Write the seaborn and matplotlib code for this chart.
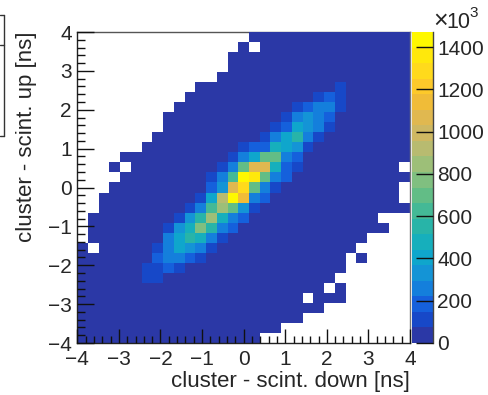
import numpy as np
import matplotlib
matplotlib.use('Agg')
import matplotlib.pyplot as plt
from matplotlib.colors import ListedColormap
from matplotlib.lines import Line2D
import seaborn as sns

n = np.nan
b = 30

# bin contents, first row is the top of the plot (y = +4 ns), columns go from x = -4 ns
counts = [
    [n,n,n,n,n, n,n,n,n,n, n,n,n,n,n, n,b,b,b,b, b,b,b,b,b, b,b,b,b,b, b],
    [n,n,n,n,n, n,n,n,n,n, n,n,n,n,n, b,n,b,b,b, b,b,b,b,b, b,b,b,b,b, b],
    [n,n,n,n,n, n,n,n,n,n, n,n,n,n,b, b,b,b,b,b, b,b,b,b,b, b,b,b,b,b, b],
    [n,n,n,n,n, n,n,n,n,n, n,n,n,n,b, b,b,b,b,b, b,b,b,b,b, b,b,b,b,b, b],
    [n,n,n,n,n, n,n,n,n,n, n,n,n,b,b, b,b,b,b,b, b,b,b,b,b, b,b,b,b,b, b],
    [n,n,n,n,n, n,n,n,n,n, n,b,b,b,b, b,b,b,b,b, b,b,b,b,110, b,b,b,b,b, b],
    [n,n,n,n,n, n,n,n,n,n, b,b,b,b,b, b,b,b,b,b, b,b,110,184,110, b,b,b,b,b, b],
    [n,n,n,n,n, n,n,n,n,b, b,b,b,b,b, b,b,b,b,b, 110,184,258,258,110, b,b,b,b,b, b],
    [n,n,n,n,n, n,n,n,b,b, b,b,b,b,b, b,b,b,b,110, 221,331,258,184,b, b,b,b,b,b, b],
    [n,n,n,n,n, n,n,n,b,b, b,b,b,b,b, b,b,b,110,184, 405,331,258,110,b, b,b,b,b,b, b],
    [n,n,n,n,n, n,n,b,b,b, b,b,b,b,b, b,b,110,258,405, 552,258,110,b,b, b,b,b,b,b, b],
    [n,n,n,n,n, n,b,b,b,b, b,b,b,b,b, 110,184,184,478,405, 331,110,b,b,b, b,b,b,b,b, b],
    [n,n,n,n,b, b,b,b,b,b, b,b,b,b,110, 258,405,699,699,258, 184,b,b,b,b, b,b,b,b,b, b],
    [n,n,n,b,n, b,b,b,b,b, b,b,b,110,258, 699,1067,1067,478,184, 110,b,b,b,b, b,b,b,b,b, n],
    [n,n,n,n,b, b,b,b,b,b, b,b,110,258,626, 1435,1361,699,258,184, b,b,b,b,b, b,b,b,b,b, b],
    [n,n,n,b,b, b,b,b,b,b, b,b,184,331,1067, 1320,699,258,110,b, b,b,b,b,b, b,b,b,b,b, n],
    [n,n,b,b,b, b,b,b,b,b, b,110,405,920,1435, 1141,258,184,b,b, b,b,b,b,b, b,b,b,b,b, n],
    [n,n,b,b,b, b,b,b,b,b, 110,258,626,846,699, 331,110,b,b,b, b,b,b,b,b, b,b,b,b,b, b],
    [n,b,b,b,b, b,b,b,b,110, 295,552,846,515,258, 184,b,b,b,b, b,b,b,b,b, b,b,b,n,n, n],
    [n,b,b,b,b, b,b,b,110,331, 478,773,552,258,184, b,b,b,b,b, b,b,b,b,b, b,b,b,b,n, n],
    [n,b,b,b,b, b,b,b,258,405, 552,478,258,110,b, b,b,b,b,b, b,b,b,b,b, b,b,n,n,n, n],
    [b,n,b,b,b, b,b,110,258,405, 331,258,110,b,b, b,b,b,b,b, b,b,b,b,b, b,n,n,n,n, n],
    [b,b,b,b,b, b,b,184,258,258, 184,110,b,b,b, b,b,b,b,b, b,b,b,b,b, n,b,n,n,n, n],
    [b,b,b,b,b, b,110,110,184,110, b,b,b,b,b, b,b,b,b,b, b,b,b,b,b, n,n,n,n,n, n],
    [b,b,b,b,b, b,110,110,b,b, b,b,b,b,b, b,b,b,b,b, b,b,b,b,n, n,n,n,n,n, n],
    [b,b,b,b,b, b,b,b,b,b, b,b,b,b,b, b,b,b,b,b, b,b,b,n,b, n,n,n,n,n, n],
    [b,b,b,b,b, b,b,b,b,b, b,b,b,b,b, b,b,b,b,b, b,n,b,b,b, n,n,n,n,n, n],
    [b,b,b,b,b, b,b,b,b,b, b,b,b,b,b, b,b,b,b,b, b,b,b,n,n, n,n,n,n,n, n],
    [b,b,b,b,b, b,b,b,b,b, b,b,b,b,b, b,b,b,b,b, b,n,n,n,n, n,n,n,n,n, n],
    [b,b,b,b,b, b,b,b,b,b, b,b,b,b,b, b,b,b,b,n, n,n,n,n,n, n,n,n,n,n, n],
    [b,b,b,b,b, b,b,b,b,b, b,b,b,b,b, b,b,n,n,n, n,n,n,n,n, n,n,n,n,n, n],
]
axis_major = [-4, -3, -2, -1, 0, 1, 2, 3, 4]
axis_labels = ['\u22124', '\u22123', '\u22122', '\u22121', '0', '1', '2', '3', '4']
z_ticks = [0, 200, 400, 600, 800, 1000, 1200, 1400]
z_max = 1472
palette = [
    '#2b38a6', '#1748c8', '#1560dc', '#147fdc', '#1494d6', '#0fa6cc', '#16afbc', '#28b4a8',
    '#44b996', '#62bd86', '#80bf80', '#9dbf78', '#b8bb70', '#ceb862', '#e0b850', '#f0bc38',
    '#fdc92a', '#ffda1c', '#ffe80c', '#fff800',
]

sns.set_style('ticks')
plt.rcParams['font.family'] = ['Liberation Sans', 'DejaVu Sans']
# ticks go on top of the cells, seaborn's style puts them underneath
plt.rcParams['axes.axisbelow'] = False

W, H = 488, 395
fig = plt.figure(figsize=(W / 100, H / 100), dpi=100)
ax = fig.add_axes([77.3 / W, 1 - 343 / H, 332.7 / W, 311 / H])
cax = fig.add_axes([411.5 / W, 1 - 343 / H, 21.8 / W, 311 / H])

data = np.array(counts, dtype=float)
sns.heatmap(data, ax=ax, cbar_ax=cax, cmap=ListedColormap(palette), vmin=0, vmax=z_max,
            xticklabels=False, yticklabels=False, linewidths=0)
nbins = data.shape[0]

# heatmap axes run in bin numbers, so convert ns to bin position for the ticks
x_pos = lambda v: (v + 4) / 8 * nbins
y_pos = lambda v: (4 - v) / 8 * nbins
minor = np.arange(-4, 4.01, 0.2)
ax.set_xticks([x_pos(v) for v in axis_major])
ax.set_xticklabels(axis_labels, fontsize=15, rotation=0)
ax.set_yticks([y_pos(v) for v in axis_major])
ax.set_yticklabels(axis_labels, fontsize=15, rotation=0)
ax.set_xticks([x_pos(v) for v in minor], minor=True)
ax.set_yticks([y_pos(v) for v in minor], minor=True)
ax.tick_params(axis='x', which='major', direction='in', length=10, width=1, pad=5, color='#111111')
ax.tick_params(axis='x', which='minor', direction='in', length=5, width=1, color='#111111')
ax.tick_params(axis='y', which='major', direction='in', length=12.5, width=1, pad=4, color='#111111')
ax.tick_params(axis='y', which='minor', direction='in', length=6, width=1, color='#111111')
ax.set_axisbelow(False)

for side in ax.spines:
    ax.spines[side].set_visible(True)
    ax.spines[side].set_linewidth(1)
ax.spines['left'].set_color('#222222')
ax.spines['bottom'].set_color('#222222')
ax.spines['top'].set_color('#555555')
ax.spines['right'].set_color('#777777')
ax.spines['top'].set_zorder(0.5)

ax.set_xlabel('cluster - scint. down [ns]', fontsize=16, ha='right')
ax.xaxis.set_label_coords(1.0, -0.09)
ax.xaxis.label.set_va('top')
ax.set_ylabel('cluster - scint. up [ns]', fontsize=16, ha='right')
ax.yaxis.set_label_coords(-0.12, 1.0)

cax.set_yticks(z_ticks)
cax.set_yticklabels([str(v) for v in z_ticks], fontsize=15)
cax.tick_params(axis='y', direction='in', length=12, width=1, pad=3, right=True, left=False, color='#111111')
cax.set_axisbelow(False)
for side in cax.spines:
    cax.spines[side].set_visible(False)
cax.spines['right'].set_visible(True)
cax.spines['right'].set_color('#444444')
cax.spines['right'].set_linewidth(1)

fig.text(433 / W, 1 - 28 / H, '\u00d7', fontsize=18, ha='left', va='baseline')
fig.text(446 / W, 1 - 28 / H, '10', fontsize=15.5, ha='left', va='baseline')
fig.text(469.5 / W, 1 - 17 / H, '3', fontsize=11, ha='left', va='baseline')

# edge of the cut off stats box at the left
for xs, ys in [([0, 3.7], [14.7, 14.7]), ([0, 3.7], [44.7, 44.7]), ([0, 3.7], [136, 136]), ([3.7, 3.7], [14.7, 136])]:
    fig.add_artist(Line2D([x / W for x in xs], [1 - y / H for y in ys], color='#333333', lw=1))

plt.savefig('out.png', dpi=100)
